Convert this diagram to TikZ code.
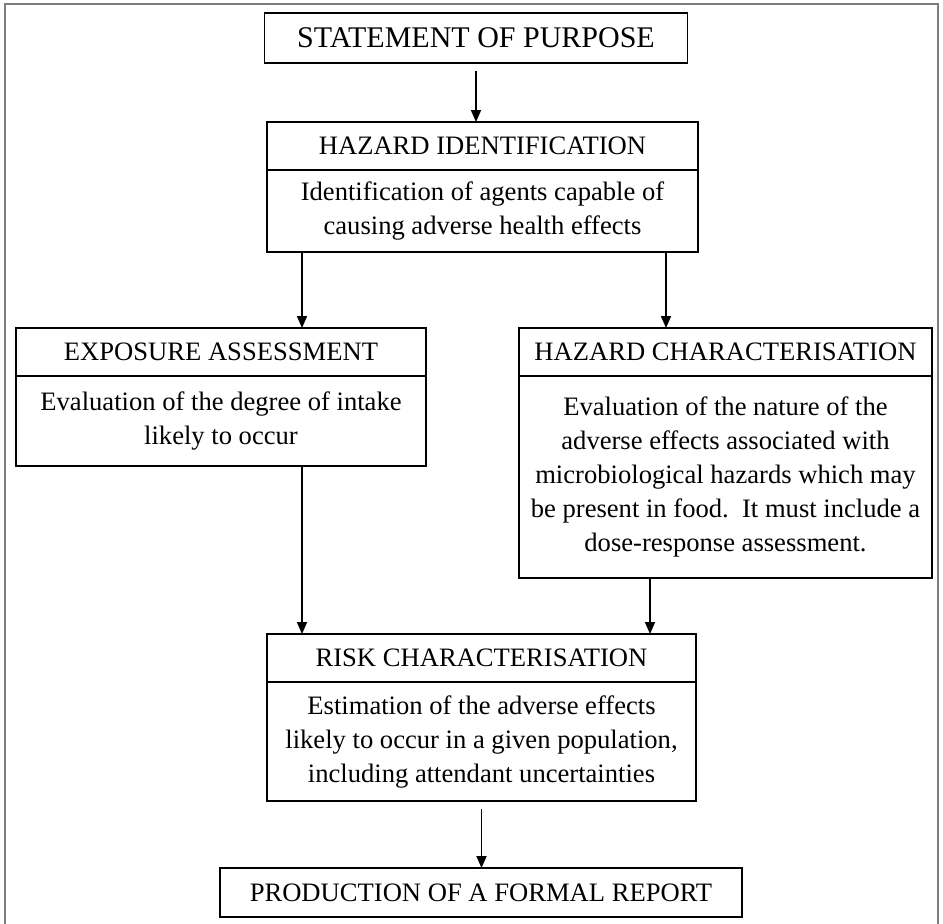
\documentclass[tikz,border=0pt]{standalone}
\usepackage{fontspec}
\setmainfont{Liberation Serif}
\usetikzlibrary{positioning,arrows.meta}
\definecolor{frameGray}{RGB}{125,125,125}

\begin{document}
\begin{tikzpicture}[x=0.5pt,y=-0.5pt,
  headBox/.style={draw,line width=0.9pt,outer sep=0pt,inner sep=0pt,align=center,font=\fontsize{13.3}{17}\selectfont},
  bodyBox/.style={headBox,below=0pt of #1},
  flowArrow/.style={line width=0.9pt,-{Triangle[width=5pt,length=6pt]}}]
\useasboundingbox (0,0) rectangle (943,923);
\draw[frameGray,line width=1pt] (5,925) |- (938,4) -- (938,925);
\node[headBox,minimum width=211.5pt,minimum height=25pt,font=\fontsize{15}{18}\selectfont] (purpose) at (476,38) {STATEMENT OF PURPOSE};
\node[headBox,minimum width=215.5pt,minimum height=24pt] (idhead) at (482.5,146) {HAZARD IDENTIFICATION};
\node[bodyBox=idhead,minimum width=215.5pt,minimum height=41pt] (idbody) {Identification of agents capable of\\causing adverse health effects};
\node[headBox,minimum width=205pt,minimum height=24pt] (exphead) at (221,352) {EXPOSURE ASSESSMENT};
\node[bodyBox=exphead,minimum width=205pt,minimum height=45pt] (expbody) {Evaluation of the degree of intake\\likely to occur};
\node[headBox,minimum width=206.5pt,minimum height=24pt] (hchead) at (725.5,352) {HAZARD CHARACTERISATION};
\node[bodyBox=hchead,minimum width=206.5pt,minimum height=101pt] (hcbody) {Evaluation of the nature of the\\adverse effects associated with\\microbiological hazards which may\\be present in food.\ \ It must include a\\dose-response assessment.};
\node[headBox,minimum width=214.5pt,minimum height=24pt] (riskhead) at (481.5,658) {RISK CHARACTERISATION};
\node[bodyBox=riskhead,minimum width=214.5pt,minimum height=59.5pt] (riskbody) {Estimation of the adverse effects\\likely to occur in a given population,\\including attendant uncertainties};
\node[headBox,minimum width=261pt,minimum height=24.5pt] (report) at (481,892.5) {PRODUCTION OF A FORMAL REPORT};
\coordinate (laneA) at (302,0);
\coordinate (laneB) at (666,0);
\coordinate (laneC) at (650,0);
\draw[flowArrow] ([yshift=-4pt]purpose.south) -- (purpose.south |- idhead.north);
\draw[flowArrow] (idbody.south -| laneA) -- (exphead.north -| laneA);
\draw[flowArrow] (idbody.south -| laneB) -- (hchead.north -| laneB);
\draw[flowArrow] (expbody.south -| laneA) -- (riskhead.north -| laneA);
\draw[flowArrow] (hcbody.south -| laneC) -- (riskhead.north -| laneC);
\draw[flowArrow] ([yshift=-4pt]riskbody.south) -- (riskbody.south |- report.north);
\end{tikzpicture}
\end{document}
